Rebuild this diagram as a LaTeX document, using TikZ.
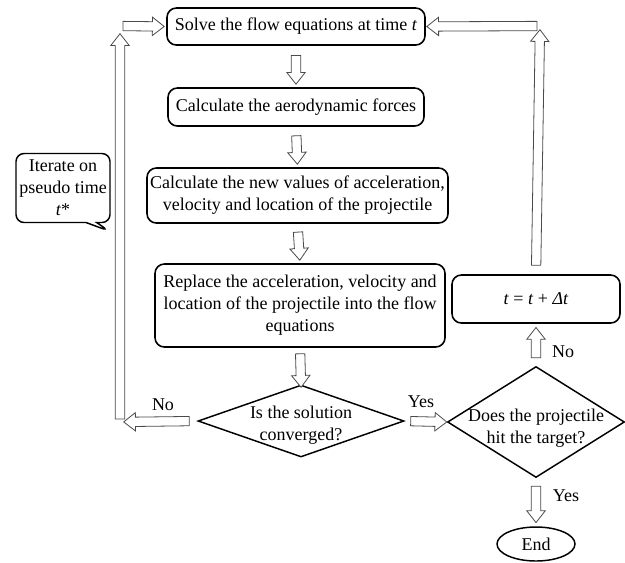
\documentclass[tikz,border=0pt]{standalone}
\usepackage{fontspec}
\setmainfont{Liberation Serif}
\usetikzlibrary{shapes.geometric,shapes.arrows,shapes.callouts,calc}
\definecolor{arrowgray}{HTML}{4A4A4A}

\tikzset{
  stepbox/.style={draw, line width=1.2pt, rounded corners=7pt,
    align=center, inner sep=2pt},
  decision/.style={diamond, draw, line width=1.1pt, inner sep=0pt},
  blockarrow/.style={single arrow, draw=arrowgray, line width=0.6pt,
    fill=white, inner xsep=0pt, inner ysep=3.2pt, minimum width=0pt,
    single arrow head extend=3.4pt, single arrow tip angle=76},
  note/.style={rectangle callout, draw, line width=1.1pt, rounded corners=6pt,
    align=center, inner sep=1pt, callout pointer width=8pt},
  lbl/.style={inner sep=1pt}
}

% hollow block arrow between two anchors, #3 and #4 are the gaps kept
% at the start and at the end
\newcommand{\flowarrow}[4]{%
  \path let \p1=($(#1)!#3!(#2)$), \p2=($(#2)!#4!(#1)$),
    \n1={veclen(\x2-\x1,\y2-\y1)}, \n2={atan2(\y2-\y1,\x2-\x1)} in
    node[blockarrow, minimum height=\n1, rotate=\n2] at ($(\p1)!0.5!(\p2)$) {};}

\begin{document}
\begin{tikzpicture}[x=0.75pt, y=-0.75pt, font=\fontsize{13.5}{16.5}\selectfont]
  \useasboundingbox (0,0) rectangle (625,562);

  % main column, top to bottom
  \node[stepbox, minimum width=193.5pt, minimum height=27.75pt] (solve) at (296,26.5)
    {Solve the flow equations at time \textit{t}};
  \node[stepbox, minimum width=192pt, minimum height=28.5pt] (aero) at (296,107)
    {Calculate the aerodynamic forces};
  \node[stepbox, minimum width=225.75pt, minimum height=41.25pt] (newval) at (297.5,195.5)
    {Calculate the new values of acceleration,\\velocity and location of the projectile};
  \node[stepbox, minimum width=217.5pt, minimum height=62.25pt] (replace) at (300,305.5)
    {Replace the acceleration, velocity and\\location of the projectile into the flow\\equations};
  \node[decision, minimum width=154.5pt, minimum height=54pt] (conv) at (301,421) {};
  \node[align=center, inner sep=0pt] (convtext) at ([yshift=-3pt]conv.center)
    {Is the solution\\converged?};

  % right column: time step
  \node[decision, minimum width=132.75pt, minimum height=83.25pt] (hit) at (536,422) {};
  \node[align=center, inner sep=0pt] (hittext) at ([yshift=-5pt]hit.center)
    {Does the projectile\\hit the target?};
  \node[stepbox, minimum width=126pt, minimum height=36pt] (tstep) at (536,299)
    {\textit{t} = \textit{t} + \textit{Δt}};
  \node[ellipse, draw, line width=1.1pt, minimum width=58.5pt, minimum height=25.5pt]
    (end) at (536,544) {End};

  % pseudo time note on the left
  \coordinate (calltip) at (109,231);
  \node[note, minimum width=70.5pt, minimum height=51.75pt,
    callout absolute pointer={(calltip)}] (iter) at (63,188)
    {Iterate on\\pseudo time\\\textit{t}*};

  % loop corners
  \coordinate (lb) at (120,422);
  \coordinate (lt) at (120,26);
  \coordinate (rt) at (540,26);

  \flowarrow{solve.south}{aero.north}{5pt}{4.5pt}
  \flowarrow{aero.south}{newval.north}{4.5pt}{4.5pt}
  \flowarrow{newval.south}{replace.north}{4pt}{4.5pt}
  \flowarrow{replace.south}{conv.north}{2.25pt}{0pt}
  \flowarrow{conv.west}{lb}{3.75pt}{5pt}
  \flowarrow{lb}{lt}{0pt}{8pt}
  \flowarrow{lt}{solve.west}{0pt}{3.75pt}
  \flowarrow{conv.east}{hit.west}{2.25pt}{2.25pt}
  \flowarrow{hit.north}{tstep.south}{3.75pt}{5pt}
  \flowarrow{tstep.north}{rt}{4.5pt}{5pt}
  \flowarrow{rt}{solve.east}{0pt}{3pt}
  \flowarrow{hit.south}{end.north}{3.75pt}{5pt}

  \node[lbl] (nol) at (163,405) {No};
  \node[lbl] (yesc) at (421,402) {Yes};
  \node[lbl] (nor) at (563,352) {No};
  \node[lbl] (yese) at (566,496) {Yes};
\end{tikzpicture}
\end{document}
